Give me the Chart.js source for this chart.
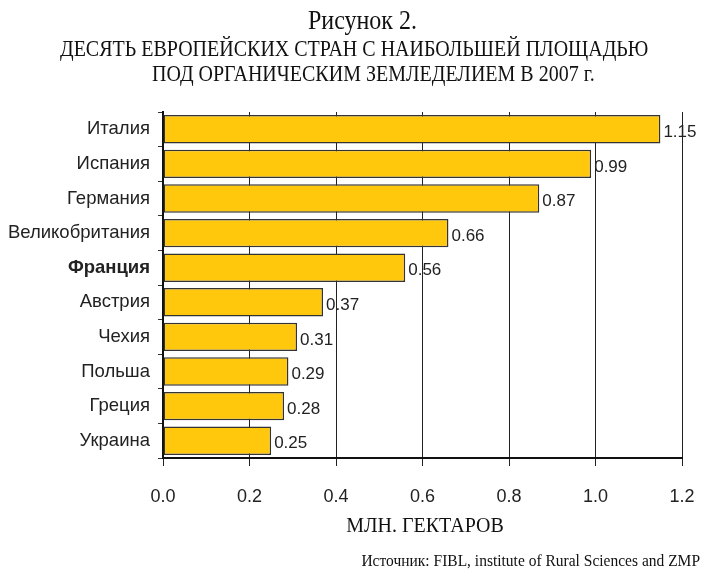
<!DOCTYPE html>
<html>
<head>
<meta charset="utf-8">
<script src="https://cdn.jsdelivr.net/npm/chart.js@4"></script>
<style>
  html, body { margin: 0; padding: 0; background: #fff; }
  #wrap { width: 702px; height: 572px; position: relative; }
</style>
</head>
<body>
<div id="wrap"><canvas id="chart"></canvas></div>
<script>
// chart data
const countries = ['Италия', 'Испания', 'Германия', 'Великобритания', 'Франция',
  'Австрия', 'Чехия', 'Польша', 'Греция', 'Украина'];
const areas = [1.15, 0.99, 0.87, 0.66, 0.56, 0.37, 0.31, 0.29, 0.28, 0.25];
const boldCountry = 'Франция';
const figureTitle = 'Рисунок 2.';
const titleLines = ['ДЕСЯТЬ ЕВРОПЕЙСКИХ СТРАН С НАИБОЛЬШЕЙ ПЛОЩАДЬЮ',
  'ПОД ОРГАНИЧЕСКИМ ЗЕМЛЕДЕЛИЕМ В 2007 г.'];
const axisTitle = 'МЛН. ГЕКТАРОВ';
const sourceText = 'Источник: FIBL, institute of Rural Sciences and ZMP';

const serif = '"Liberation Serif", "Times New Roman", serif';
const sans = '"Liberation Sans", Arial, sans-serif';

// text a bit taller than wide, like the scanned original
function tallText(ctx, text, x, y, sy) {
  ctx.save();
  ctx.translate(x, y);
  ctx.scale(1, sy);
  ctx.fillText(text, 0, 0);
  ctx.restore();
}

// draws titles, axis caption, source and the value labels
const textPlugin = {
  id: 'textPlugin',
  afterDraw(chart) {
    const ctx = chart.ctx;
    ctx.save();
    ctx.fillStyle = '#111';
    ctx.textBaseline = 'alphabetic';
    ctx.textAlign = 'left';

    ctx.font = '24px ' + serif;
    tallText(ctx, figureTitle, 308, 29, 1.1);

    ctx.font = '20px ' + serif;
    tallText(ctx, titleLines[0], 60, 56, 1.12);
    tallText(ctx, titleLines[1], 152, 81, 1.12);

    ctx.font = '20px ' + serif;
    ctx.textAlign = 'center';
    tallText(ctx, axisTitle, 425, 532, 1.1);

    ctx.font = '15.5px ' + serif;
    ctx.textAlign = 'right';
    tallText(ctx, sourceText, 700, 566, 1.1);

    // value labels
    const meta = chart.getDatasetMeta(0);
    ctx.font = '17px ' + sans;
    ctx.textAlign = 'left';
    ctx.textBaseline = 'middle';
    ctx.fillStyle = '#222';
    meta.data.forEach((bar, i) => {
      ctx.fillText(areas[i].toFixed(2), bar.x + 3, bar.y + 3);
    });
    ctx.restore();
  }
};

new Chart(document.getElementById('chart'), {
  type: 'bar',
  data: {
    labels: countries,
    datasets: [{
      data: areas,
      backgroundColor: '#FFC80C',
      borderColor: '#333',
      borderWidth: 1.5,
      borderSkipped: false,
      barPercentage: 0.82,
      categoryPercentage: 1.0
    }]
  },
  options: {
    indexAxis: 'y',
    responsive: true,
    maintainAspectRatio: false,
    animation: false,
    layout: { padding: { top: 112, right: 20, bottom: 0, left: 0 } },
    plugins: {
      legend: { display: false },
      tooltip: { enabled: false },
      title: { display: false }
    },
    scales: {
      x: {
        min: 0,
        max: 1.2,
        afterFit(scale) {
          scale.height = 114;
          scale.paddingLeft = 0;
          scale.paddingRight = 0;
        },
        border: { display: true, color: '#111', width: 2 },
        grid: { color: '#222', lineWidth: 1, tickLength: 8 },
        ticks: {
          stepSize: 0.2,
          padding: 20,
          color: '#222',
          font: { family: sans, size: 18 },
          callback: v => Number(v).toFixed(1)
        }
      },
      y: {
        afterFit(scale) {
          scale.width = 163;
          scale.paddingTop = 0;
          scale.paddingBottom = 0;
        },
        border: { display: true, color: '#111', width: 2 },
        grid: { offset: true, drawOnChartArea: false, color: '#333', tickLength: 5 },
        ticks: {
          padding: 8,
          color: '#222',
          font: ctx => ({
            family: sans,
            size: 18.5,
            weight: countries[ctx.index] === boldCountry ? 'bold' : 'normal'
          })
        }
      }
    }
  },
  plugins: [textPlugin]
});
</script>
</body>
</html>
